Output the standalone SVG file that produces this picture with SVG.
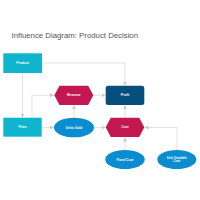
<svg xmlns="http://www.w3.org/2000/svg" width="200" height="200" viewBox="0 0 200 200">
<style>
.t{font-family:"Liberation Sans",Arial,sans-serif;}
.title{font-size:7.8px;fill:#555;}
.lbl{font-size:3.3px;fill:#fff;font-weight:bold;text-anchor:middle;dominant-baseline:central;}
.c{fill:none;stroke:#d6d6d6;stroke-width:0.7;marker-end:url(#ah);}
.cy{fill:#0fb5cd;}
.mg{fill:#c2174f;}
.db{fill:#064f7d;}
.bl{fill:#0a8dcf;}
</style>
<defs>
<marker id="ah" viewBox="0 0 6 6" refX="6" refY="3" markerWidth="4" markerHeight="4" orient="auto" markerUnits="userSpaceOnUse">
<path d="M0,0 L6,3 L0,6 z" fill="#c8c8c8"/>
</marker>
</defs>
<rect width="200" height="200" fill="#fff"/>
<text class="t title" x="11.5" y="37.5">Influence Diagram: Product Decision</text>
<g id="connectors">
<path class="c" d="M42,63 H125 V85.5"/>
<path class="c" d="M22.5,73 V117.5"/>
<path class="c" d="M32,117.7 V95.3 H54"/>
<path class="c" d="M41.7,127.5 H53.8"/>
<path class="c" d="M74,117.5 V105.2"/>
<path class="c" d="M93.3,95.3 H105.5"/>
<path class="c" d="M125,117.5 V105.2"/>
<path class="c" d="M94.2,127.5 H105.5"/>
<path class="c" d="M125,150 V137.5"/>
<path class="c" d="M177,150 V127.5 H144.5"/>
</g>
<g id="node-product">
<rect class="cy" x="3.3" y="53.3" width="38.7" height="19.7"/>
<text class="t lbl" x="22.6" y="63.2">Product</text>
</g>
<g id="node-revenue">
<polygon class="mg" points="54.3,95.3 59.5,85.7 88.2,85.7 93.3,95.3 88.2,105 59.5,105"/>
<text class="t lbl" x="73.8" y="95.4">Revenue</text>
</g>
<g id="node-profit">
<rect class="db" x="105.7" y="85.7" width="38.6" height="19.3" rx="2.5"/>
<text class="t lbl" x="125" y="95.4">Profit</text>
</g>
<g id="node-price">
<rect class="cy" x="3.3" y="117.7" width="38.4" height="19"/>
<text class="t lbl" x="22.5" y="127.2">Price</text>
</g>
<g id="node-units">
<ellipse class="bl" cx="74" cy="127.5" rx="20" ry="9.8"/>
<text class="t lbl" x="74" y="127.5">Units Sold</text>
</g>
<g id="node-cost">
<polygon class="mg" points="105.7,127.3 110.8,117.7 139.2,117.7 144.3,127.3 139.2,137 110.8,137"/>
<text class="t lbl" x="125" y="127.4">Cost</text>
</g>
<g id="node-fixed">
<ellipse class="bl" cx="125" cy="159.5" rx="19.7" ry="9.6"/>
<text class="t lbl" x="125" y="159.5">Fixed Cost</text>
</g>
<g id="node-uvc">
<ellipse class="bl" cx="176.8" cy="159.5" rx="19.5" ry="9.6"/>
<text class="t lbl" x="176.8" y="157.6">Unit Variable</text>
<text class="t lbl" x="176.8" y="161.4">Cost</text>
</g>
</svg>
